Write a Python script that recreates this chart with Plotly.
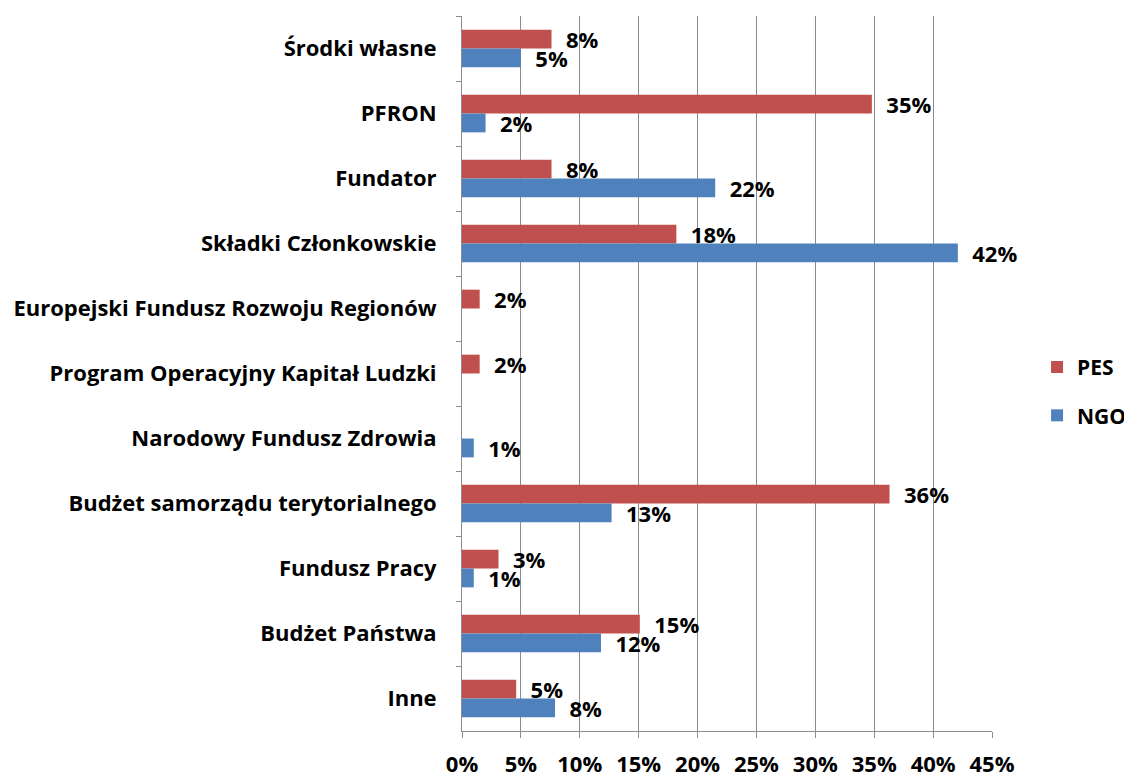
import plotly.graph_objects as go

# categories listed top to bottom as in the chart
categories = [
    "Środki własne",
    "PFRON",
    "Fundator",
    "Składki Członkowskie",
    "Europejski Fundusz Rozwoju Regionów",
    "Program Operacyjny Kapitał Ludzki",
    "Narodowy Fundusz Zdrowia",
    "Budżet samorządu terytorialnego",
    "Fundusz Pracy",
    "Budżet Państwa",
    "Inne",
]
pes = [7.6, 34.8, 7.6, 18.2, 1.5, 1.5, None, 36.3, 3.1, 15.1, 4.6]
ngo = [5.0, 2.0, 21.5, 42.1, None, None, 1.0, 12.7, 1.0, 11.8, 7.9]

FONT = "Open Sans"
GRID = "#8c8c8c"
SIZE = 22

fig = go.Figure()
for name, vals, color in [("PES", pes, "#C0504D"), ("NGO", ngo, "#4F81BD")]:
    fig.add_trace(go.Bar(
        y=categories, x=vals, name=name, orientation="h",
        marker=dict(color=color, line=dict(width=0)),
        texttemplate="\u00a0\u00a0%{x:.0f}%",
        textposition="outside",
        textfont=dict(family=FONT, size=SIZE, color="black", weight="bold"),
        constraintext="none",
        cliponaxis=False,
        legendgroup=name,
        hoverinfo="skip",
    ))

# the page adds an 8px body margin, so margins are shifted by -8px
fig.update_layout(
    barmode="group",
    bargap=0.42,
    bargroupgap=0,
    width=1132, height=775,
    margin=dict(l=454, r=148, t=8, b=52, autoexpand=False),
    plot_bgcolor="white",
    paper_bgcolor="white",
    font=dict(family=FONT, size=SIZE, color="black", weight="bold"),
    showlegend=True,
    legend=dict(
        x=1.085, y=0.475, xanchor="left", yanchor="middle",
        traceorder="grouped", tracegroupgap=18,
        font=dict(family=FONT, size=SIZE - 1, color="black", weight="bold"),
        itemwidth=30,
    ),
)
fig.update_xaxes(
    range=[0, 45], dtick=5, ticksuffix="%",
    showgrid=True, gridcolor=GRID, gridwidth=1,
    showline=True, linecolor=GRID, linewidth=1,
    ticks="outside", ticklen=6, tickcolor=GRID,
    ticklabelstandoff=8,
    zeroline=False, fixedrange=True, automargin=False,
)
fig.update_yaxes(
    autorange="reversed",
    showgrid=False,
    showline=True, linecolor=GRID, linewidth=1,
    ticks="outside", ticklen=5, tickcolor=GRID,
    tickson="boundaries",
    ticklabelstandoff=20,
    fixedrange=True, automargin=False,
)

fig.write_html("out.html")
